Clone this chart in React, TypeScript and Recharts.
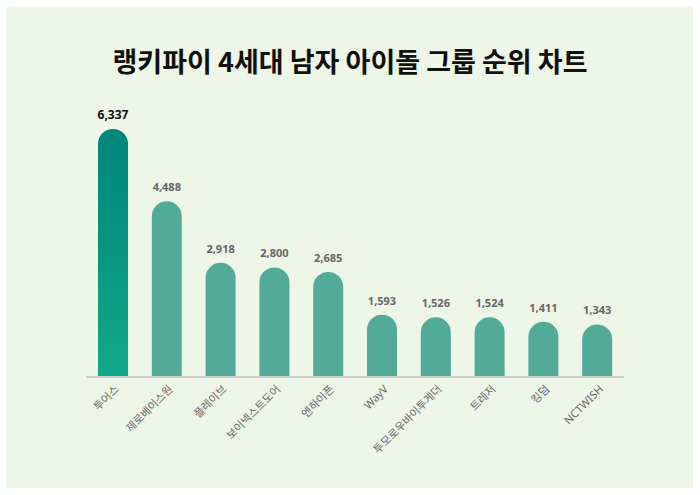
import React from 'react';
import { BarChart, Bar, XAxis, YAxis, Cell, LabelList } from 'recharts';

const categories = ['투어스', '제로베이스원', '플레이브', '보이넥스트도어', '엔하이픈', 'WayV', '투모로우바이투게더', '트레저', '킹덤', 'NCTWISH'];
const values = [6337, 4488, 2918, 2800, 2685, 1593, 1526, 1524, 1411, 1343];
const title = '랭키파이 4세대 남자 아이돌 그룹 순위 차트';

const data = categories.map((name, i) => ({ name, value: values[i] }));

const FONT = "'Noto Sans', 'Noto Sans CJK KR', sans-serif";

const Tick = (props: any) => {
  const { x, y, payload } = props;
  return (
    <g transform={`translate(${x + 4},${y + 2})`}>
      <text x={0} y={0} dy={4} textAnchor="end" transform="rotate(-45)" fill="#666" fontSize={11} fontFamily={FONT}>
        {payload.value}
      </text>
    </g>
  );
};

const ValueLabel = (props: any) => {
  const { x, y, width, value, index } = props;
  const first = index === 0;
  return (
    <text x={x + width / 2} y={y - 10} textAnchor="middle" fill={first ? '#111' : '#666'} fontSize={first ? 12 : 11} fontWeight={700} fontFamily={FONT}>
      {Number(value).toLocaleString('en-US')}
    </text>
  );
};

export default function App() {
  return (
    <div style={{ position: 'absolute', left: 0, top: 0, width: 700, height: 495, background: '#fff' }}>
      <div style={{ position: 'absolute', left: 6, top: 7, width: 687, height: 481, background: '#EEF6E8' }} />
      <div style={{ position: 'absolute', left: 0, top: 42, width: 700, textAlign: 'center', fontFamily: "'Noto Sans CJK KR', sans-serif", fontWeight: 700, fontSize: 27, color: '#111', lineHeight: '38px' }}>
        {title}
      </div>
      <div style={{ position: 'absolute', left: 0, top: 0 }}>
        <BarChart width={700} height={495} data={data} margin={{ top: 103, right: 76, bottom: 38, left: 86 }} barSize={30}>
          <defs>
            <linearGradient id="firstGrad" x1="0" y1="0" x2="0" y2="1">
              <stop offset="0%" stopColor="#01857A" />
              <stop offset="100%" stopColor="#10A98A" />
            </linearGradient>
          </defs>
          <YAxis hide domain={[0, 7000]} />
          <XAxis dataKey="name" height={80} interval={0} tickLine={false} axisLine={{ stroke: '#cfcfcf', strokeWidth: 2 }} tick={<Tick />} />
          <Bar dataKey="value" radius={[15, 15, 0, 0]} isAnimationActive={false}>
            {data.map((d, i) => (
              <Cell key={d.name} fill={i === 0 ? 'url(#firstGrad)' : '#52AB98'} />
            ))}
            <LabelList dataKey="value" content={<ValueLabel />} />
          </Bar>
        </BarChart>
      </div>
    </div>
  );
}
